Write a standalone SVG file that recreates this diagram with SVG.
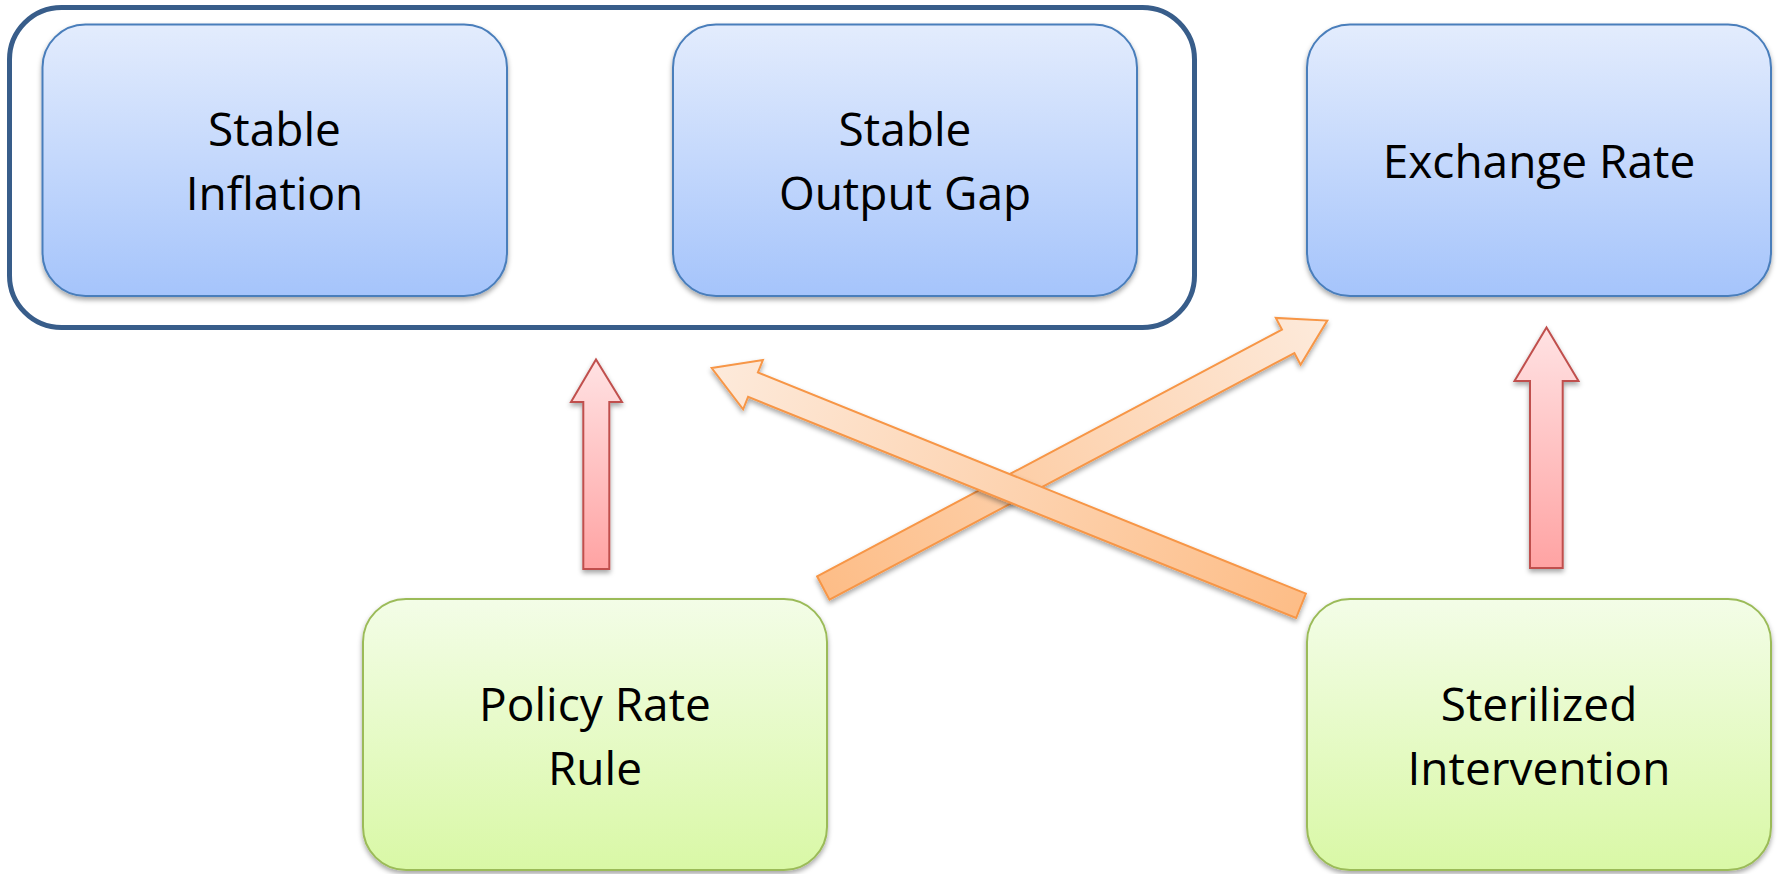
<svg xmlns="http://www.w3.org/2000/svg" width="1779" height="874" viewBox="0 0 1779 874">
<defs>
<linearGradient id="gBlue" x1="0" y1="0" x2="0" y2="1">
<stop offset="0" stop-color="#e3ecfd"/>
<stop offset="1" stop-color="#a5c4fb"/>
</linearGradient>
<linearGradient id="gGreen" x1="0" y1="0" x2="0" y2="1">
<stop offset="0" stop-color="#f3fde7"/>
<stop offset="1" stop-color="#d9f8a6"/>
</linearGradient>
<linearGradient id="gRed" x1="0" y1="0" x2="0" y2="1">
<stop offset="0" stop-color="#ffe2e3"/>
<stop offset="1" stop-color="#ffa3a3"/>
</linearGradient>
<linearGradient id="gOrA" gradientUnits="userSpaceOnUse" x1="823" y1="588" x2="1327" y2="321">
<stop offset="0" stop-color="#fdbd87"/>
<stop offset="1" stop-color="#fdeadb"/>
</linearGradient>
<linearGradient id="gOrB" gradientUnits="userSpaceOnUse" x1="1301" y1="606" x2="712" y2="368">
<stop offset="0" stop-color="#fdbd87"/>
<stop offset="1" stop-color="#fdeadb"/>
</linearGradient>
<filter id="sh" x="-10%" y="-10%" width="120%" height="130%">
<feDropShadow dx="0" dy="3" stdDeviation="2.5" flood-color="#000" flood-opacity="0.35"/>
</filter>
</defs>
<style>
.blue{fill:url(#gBlue);stroke:#4a7ebb;stroke-width:2;filter:url(#sh)}
.green{fill:url(#gGreen);stroke:#9bbb59;stroke-width:2;filter:url(#sh)}
.red{fill:url(#gRed);stroke:#c0504d;stroke-width:2;stroke-linejoin:miter;filter:url(#sh)}
.orange{stroke:#f79646;stroke-width:2;stroke-linejoin:miter;filter:url(#sh)}
.lbl{font-family:"Open Sans","Liberation Sans",sans-serif;font-size:46px;fill:#000;text-anchor:middle}
</style>
<rect width="1779" height="874" fill="#ffffff"/>
<g id="group-container">
<rect x="9.5" y="7.5" width="1185" height="320" rx="52" ry="52" fill="none" stroke="#385d8a" stroke-width="5"/>
</g>
<g id="node-stable-inflation">
<rect class="blue" x="42.5" y="24.5" width="464.5" height="271.5" rx="43" ry="43"/>
<text class="lbl" x="274.5" y="146">Stable</text>
<text class="lbl" x="274.5" y="209.5">Inflation</text>
</g>
<g id="node-stable-output-gap">
<rect class="blue" x="673" y="24.5" width="464" height="271.5" rx="43" ry="43"/>
<text class="lbl" x="905" y="146">Stable</text>
<text class="lbl" x="905" y="209.5">Output Gap</text>
</g>
<g id="node-exchange-rate">
<rect class="blue" x="1307" y="24.5" width="464" height="271.5" rx="43" ry="43"/>
<text class="lbl" x="1539" y="178">Exchange Rate</text>
</g>
<g id="node-policy-rate-rule">
<rect class="green" x="363" y="599" width="464" height="271" rx="43" ry="43"/>
<text class="lbl" x="595" y="721">Policy Rate</text>
<text class="lbl" x="595" y="784.5">Rule</text>
</g>
<g id="node-sterilized-intervention">
<rect class="green" x="1307" y="599" width="464" height="271" rx="43" ry="43"/>
<text class="lbl" x="1539" y="721">Sterilized</text>
<text class="lbl" x="1539" y="784.5">Intervention</text>
</g>
<g id="connectors">
<polygon id="edge-policy-to-targets" class="red" points="583.3,569 583.3,402 571,402 596,359.5 622,402 609.3,402 609.3,569"/>
<polygon id="edge-sterilized-to-exchange" class="red" points="1530,568 1530,381 1514.5,381 1546.5,327.5 1578.5,381 1562.7,381 1562.7,568"/>
<polygon id="edge-policy-to-exchange" class="orange" fill="url(#gOrA)" points="817.1,576.3 1282.0,329.6 1275.8,317.9 1327.3,320.6 1300.6,364.7 1294.4,353.0 829.5,599.7"/>
<polygon id="edge-sterilized-to-outputgap" class="orange" fill="url(#gOrB)" points="1305.9,593.6 757.9,372.5 762.9,360.1 711.7,368.1 743.1,409.3 748.1,396.9 1296.1,618.0"/>
</g>
</svg>
